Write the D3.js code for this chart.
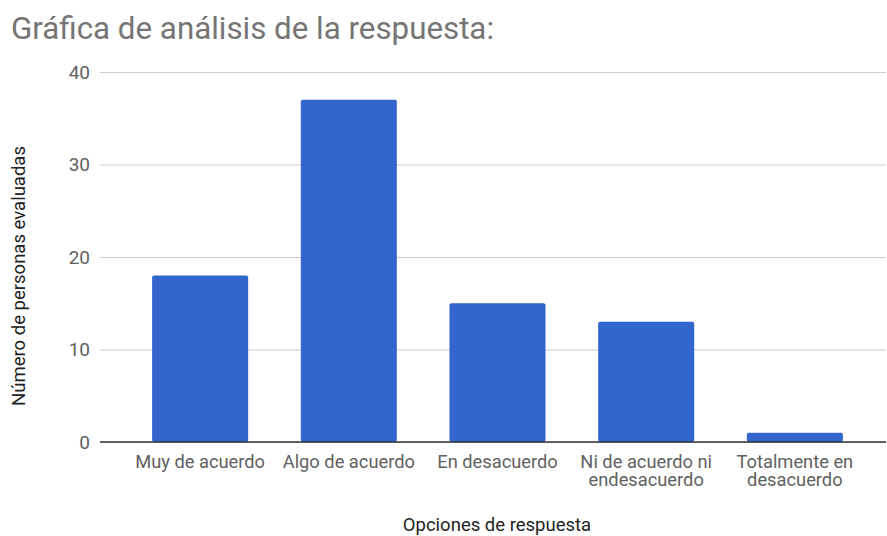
<!DOCTYPE html>
<html>
<head>
<meta charset="utf-8">
<script src="https://cdn.jsdelivr.net/npm/d3@7"></script>
<style>
body{margin:0;background:#fff;font-family:Roboto,sans-serif;}
</style>
</head>
<body>
<div id="chart"></div>
<script>
// data
var categories = ["Muy de acuerdo", "Algo de acuerdo", "En desacuerdo", "Ni de acuerdo ni endesacuerdo", "Totalmente en desacuerdo"];
var labelLines = [["Muy de acuerdo"], ["Algo de acuerdo"], ["En desacuerdo"], ["Ni de acuerdo ni", "endesacuerdo"], ["Totalmente en", "desacuerdo"]];
var values = [18, 37, 15, 13, 1];
var yTicks = [0, 10, 20, 30, 40];

var svg = d3.select("#chart").append("svg").attr("width", 887).attr("height", 536);

var plotLeft = 100, plotRight = 886, plotTop = 72, plotBottom = 442;

var x = d3.scaleBand().domain(categories).range([109, 886]).paddingInner(0.354).paddingOuter(0.29);
var y = d3.scaleLinear().domain([0, 40]).range([plotBottom, plotTop]);

// title
svg.append('text')
    .attr('x', 11).attr('y', 39)
    .attr('font-size', 31.3)
    .attr('fill', '#757575')
    .text('Gráfica de análisis de la respuesta:');

// gridlines + y labels
var yAxis = svg.append('g').attr('class', 'y axis')
    .attr('transform', 'translate(' + plotLeft + ',0)')
    .call(d3.axisLeft(y).tickValues(yTicks).tickSize(-(plotRight - plotLeft)).tickPadding(10));
yAxis.select('.domain').remove();
yAxis.selectAll('.tick line').attr('stroke', '#cccccc');
yAxis.selectAll('.tick text').attr('fill', '#616161').attr('font-size', 19).attr('font-family', 'Roboto');

// bars
svg.selectAll('.bar').data(values).enter().append('rect')
    .attr('class', 'bar')
    .attr('x', function(d, i){ return x(categories[i]); })
    .attr('y', function(d){ return y(d); })
    .attr('width', x.bandwidth())
    .attr('height', function(d){ return plotBottom - y(d); })
    .attr('rx', 2)
    .attr('fill', '#3366cc');

// baseline
svg.append('line')
    .attr('x1', plotLeft).attr('x2', plotRight)
    .attr('y1', y(0)).attr('y2', y(0))
    .attr('stroke', '#333').attr('stroke-width', 1.5);

// x labels
var xl = svg.selectAll('.xlabel').data(categories).enter().append('text')
    .attr('class', 'xlabel')
    .attr('text-anchor', 'middle')
    .attr('font-size', 18.3)
    .attr('fill', '#616161')
    .attr('transform', function(d){ return 'translate(' + (x(d) + x.bandwidth() / 2) + ',468)'; });
xl.selectAll('tspan').data(function(d, i){ return labelLines[i]; }).enter().append('tspan')
    .attr('x', 0)
    .attr('dy', function(d, i){ return i == 0 ? 0 : 18; })
    .text(function(d){ return d; });

// axis titles
svg.append('text')
    .attr('transform', 'translate(497,531)')
    .attr('text-anchor', 'middle')
    .attr('font-size', 18.5)
    .attr('fill', '#222')
    .text('Opciones de respuesta');

svg.append('text')
    .attr('transform', 'translate(25,276) rotate(-90)')
    .attr('text-anchor', 'middle')
    .attr('font-size', 18.5)
    .attr('fill', '#222')
    .text('Número de personas evaluadas');
</script>
</body>
</html>
